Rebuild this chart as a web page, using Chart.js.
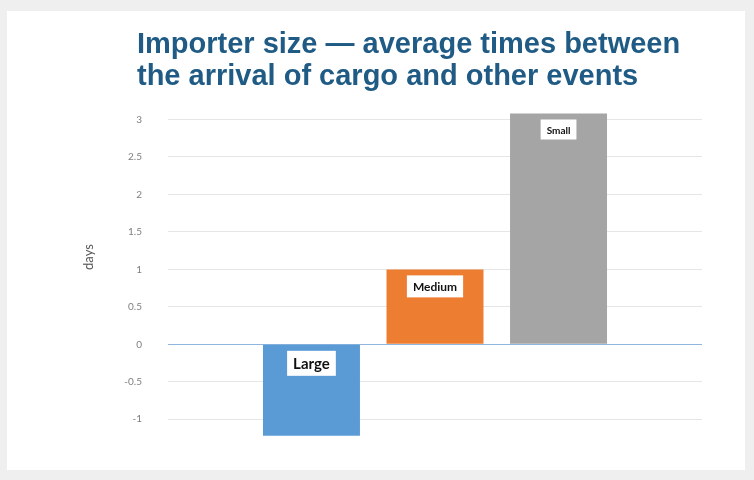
<!DOCTYPE html>
<html>
<head>
<meta charset="utf-8">
<script src="https://cdn.jsdelivr.net/npm/chart.js@4/dist/chart.umd.min.js"></script>
<style>
  body { margin: 0; background: #efefef; width: 754px; height: 480px; overflow: hidden; }
  #panel { position: absolute; left: 7px; top: 11px; width: 738px; height: 459px; background: #fff; }
  #title {
    position: absolute; left: 130px; top: 16px;
    font-family: "Liberation Sans", Arial, sans-serif;
    font-weight: bold; font-size: 29px; line-height: 32px; color: #1f5b84;
    white-space: nowrap;
  }
  #ytitle {
    position: absolute; left: 51px; top: 236px; width: 60px; text-align: center;
    font-family: Lato, sans-serif; font-size: 13px; line-height: 20px; color: #595959;
    transform: rotate(-90deg);
  }
  #sizeChart { position: absolute; left: 0; top: 0; }
</style>
</head>
<body>
<div id="panel">
  <canvas id="sizeChart" width="738" height="459"></canvas>
  <div id="title">Importer size — average times between<br>the arrival of cargo and other events</div>
  <div id="ytitle">days</div>
</div>
<script>
// Importer size vs average days between cargo arrival and other events
const categories = [""];
const seriesNames = ["Large", "Medium", "Small"];
const seriesValues = [-1.22, 1.0, 3.08];
const yTicks = [-1, -0.5, 0, 0.5, 1, 1.5, 2, 2.5, 3];

const seriesColors = ["#5b9bd5", "#ed7d31", "#a5a5a5"];
const labelSizes = [15, 12, 10];

// white boxed series name at the top edge of each bar
const barLabels = {
  id: "barLabels",
  afterDatasetsDraw(chart) {
    const c = chart.ctx;
    chart.data.datasets.forEach((ds, i) => {
      const bar = chart.getDatasetMeta(i).data[0];
      if (!bar) return;
      const size = labelSizes[i];
      c.save();
      c.font = "bold " + size + "px Lato, 'Open Sans', sans-serif";
      const w = c.measureText(ds.label).width + 12;
      const h = size + 10;
      const top = Math.min(bar.y, bar.base) + 6;
      c.fillStyle = "#fff";
      c.fillRect(bar.x - w / 2, top, w, h);
      c.fillStyle = "#111";
      c.textAlign = "center";
      c.textBaseline = "middle";
      c.fillText(ds.label, bar.x, top + h / 2 + 1);
      c.restore();
    });
  },
};

const ctx = document.getElementById("sizeChart").getContext("2d");
new Chart(ctx, {
  type: "bar",
  data: {
    labels: categories,
    datasets: seriesNames.map((name, i) => ({
      label: name,
      data: [seriesValues[i]],
      backgroundColor: seriesColors[i],
      categoryPercentage: 0.694,
      barPercentage: 0.785,
    })),
  },
  options: {
    responsive: false,
    animation: false,
    layout: { padding: { left: 60, right: 43, top: 101, bottom: 26 } },
    plugins: { legend: { display: false }, tooltip: { enabled: false } },
    scales: {
      x: { display: false },
      y: {
        min: -1.25,
        max: 3.1,
        afterBuildTicks: (axis) => {
          axis.ticks = yTicks.map((v) => ({ value: v }));
        },
        afterFit: (axis) => {
          axis.width = 101;
        },
        border: { display: false },
        grid: {
          drawTicks: false,
          color: (c) => (c.tick && c.tick.value === 0 ? "#8fb6de" : "#e6e6e6"),
        },
        ticks: {
          padding: 26,
          color: "#7f7f7f",
          font: { family: "Lato, sans-serif", size: 10 },
          callback: (v) => String(v),
        },
      },
    },
  },
  plugins: [barLabels],
});
</script>
</body>
</html>
